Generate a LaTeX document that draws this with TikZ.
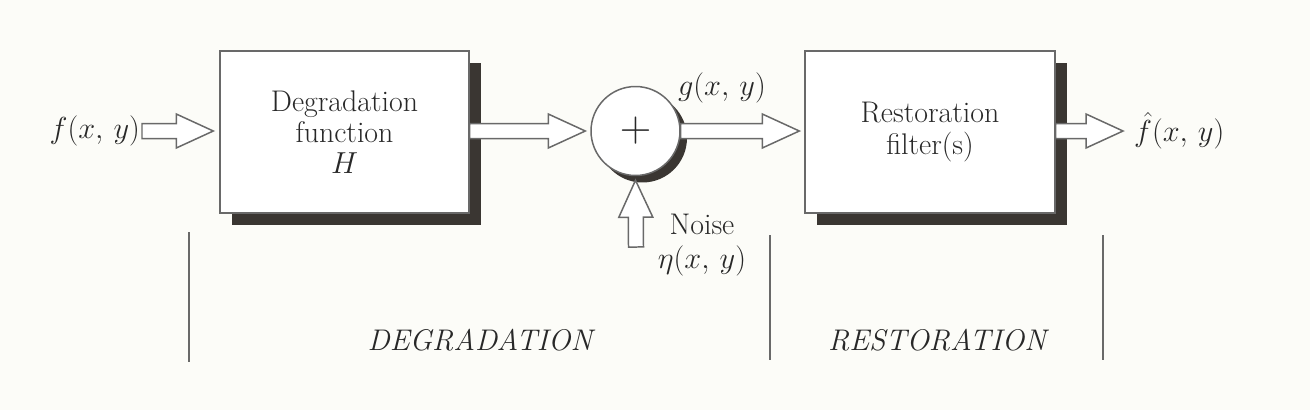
\documentclass[tikz,border=0pt]{standalone}
\usepackage{amsmath,amssymb}
\usepackage{tikz}
\usetikzlibrary{positioning,calc,shadows}
\definecolor{PaperWhite}{RGB}{252,252,248}
\definecolor{InkGray}{RGB}{40,40,40}
\definecolor{LineGray}{RGB}{105,105,105}
\definecolor{ShadeDark}{RGB}{58,54,50}
\tikzset{
  blk/.style={draw=LineGray,line width=0.85pt,fill=white,minimum width=4.98cm,minimum height=3.24cm,
    align=center,text=InkGray,font=\fontsize{17}{17.5}\selectfont,
    general shadow={fill=ShadeDark,shadow xshift=0.24cm,shadow yshift=-0.24cm}},
  sumnode/.style={circle,draw=LineGray,line width=0.85pt,fill=white,minimum size=1.78cm,inner sep=0pt,
    text=InkGray,general shadow={fill=ShadeDark,shadow xshift=0.14cm,shadow yshift=-0.14cm}},
  lbl/.style={text=InkGray,font=\fontsize{17}{19.4}\selectfont,inner sep=1pt,align=center},
  part/.style={text=InkGray,font=\fontsize{17}{19}\selectfont\itshape},
  sep/.style={draw=LineGray,line width=0.6pt},
  blockarrow/.style={draw=LineGray,line width=0.85pt,fill=white,line join=miter,
    to path={($(\tikztostart)!0.15cm!90:(\tikztotarget)$)
      -- ($(\tikztotarget)!0.74cm!(\tikztostart)!0.15cm!90:(\tikztotarget)$)
      -- ($(\tikztotarget)!0.74cm!(\tikztostart)!0.34cm!90:(\tikztotarget)$)
      -- (\tikztotarget)
      -- ($(\tikztotarget)!0.74cm!(\tikztostart)!0.34cm!-90:(\tikztotarget)$)
      -- ($(\tikztotarget)!0.74cm!(\tikztostart)!0.15cm!-90:(\tikztotarget)$)
      -- ($(\tikztostart)!0.15cm!-90:(\tikztotarget)$) -- cycle}},
}

\begin{document}
\begin{tikzpicture}[x=0.02cm,y=-0.02cm]
\fill[PaperWhite] (0,0) rectangle (1310,410);
\useasboundingbox (0,0) rectangle (1310,410);
% blocks
\node[blk] (deg) at (344.5,132) {Degradation\\function\\$H$};
\node[sumnode] (sum) at (635.5,131) {\fontsize{25}{25}\selectfont$+$};
\node[blk,minimum width=5cm,font=\fontsize{17}{18.2}\selectfont] (res) at (930,132) {Restoration\\filter(s)};
% labels
\node[lbl,anchor=east] (fin) at (142,131) {$f(x,\,y)$};
\node[lbl] (gout) at (722,88) {$g(x,\,y)$};
\node[lbl] (noise) at (702,245) {Noise\\$\eta(x,\,y)$};
\node[lbl,anchor=west] (fhat) at (1132,131) {$\hat{f}(x,\,y)$};
\coordinate (nstart) at (636,247);
% arrow tips
\coordinate (degin) at ($(deg.west)+(-6,-1)$);
\coordinate (sumin) at ($(sum.west)+(-5,0)$);
\coordinate (resin) at ($(res.west)+(-5,-1)$);
\coordinate (sumlow) at ($(sum.south)+(0,4)$);
\coordinate (fhatin) at ($(fhat.west)+(-9,0)$);
% arrows
\draw[blockarrow] (fin.east) to (degin);
\draw[blockarrow] (deg.east |- sum) to (sumin);
\draw[blockarrow] (sum.east) to (resin);
\draw[blockarrow] (nstart) to (sumlow);
\draw[blockarrow] (res.east |- fhat) to (fhatin);
% stages
\draw[sep] (189,232) -- (189,362);
\draw[sep] (770,235) -- (770,360);
\draw[sep] (1103,235) -- (1103,360);
\node[part] (dg) at (480,340) {DEGRADATION};
\node[part] (rs) at (937,340) {RESTORATION};
\end{tikzpicture}
\end{document}
